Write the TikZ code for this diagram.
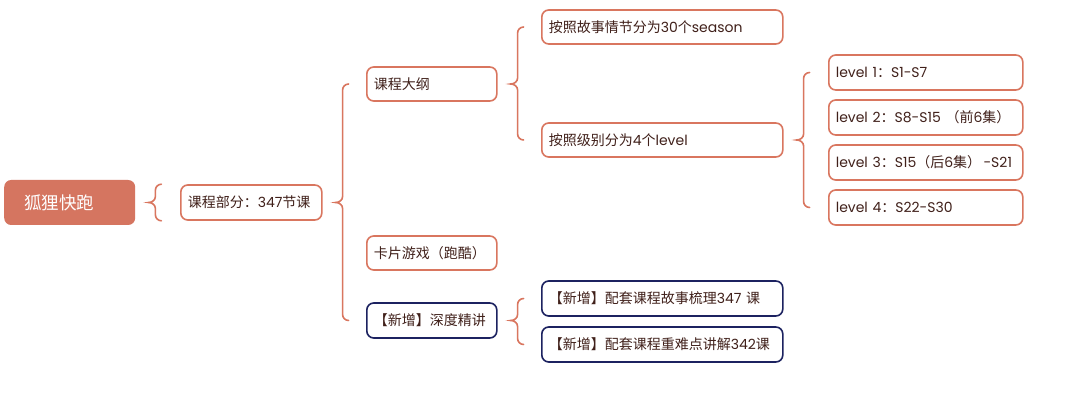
\documentclass[tikz,border=0pt]{standalone}
\usepackage{fontspec}
\setmainfont{Noto Sans CJK SC}
\newfontfamily\lat{Poppins}
\usetikzlibrary{calc}
\definecolor{c1}{RGB}{217,118,95}
\definecolor{rootfill}{RGB}{213,117,96}
\definecolor{navy}{RGB}{28,34,96}
\definecolor{tc}{RGB}{64,32,26}
\tikzset{
  box/.style={draw=c1, line width=1.6pt, rounded corners=7pt, fill=white, text=tc,
    font=\fontsize{14}{16}\selectfont, anchor=west, minimum height=35pt, inner xsep=7pt, align=left},
  nbox/.style={box, draw=navy},
  rootbox/.style={fill=rootfill, rounded corners=7pt, text=white, font=\fontsize{17.5}{19}\selectfont,
    anchor=west, minimum height=45pt, inner xsep=20pt, align=left, text width=91pt},
  brace/.style={draw=c1, line width=1.6pt, line cap=round}
}
\newcommand\brk[3]{%
  \draw[brace] let \p1=(#1.east), \p2=(#2), \p3=(#3) in
  (\x1+26pt,\y2) to[out=180,in=90] (\x1+20pt,\y2-6pt) -- (\x1+20pt,\y1+6pt)
  to[out=-90,in=0] (\x1+13pt,\y1) to[out=0,in=90] (\x1+20pt,\y1-6pt)
  -- (\x1+20pt,\y3+6pt) to[out=-90,in=180] (\x1+26pt,\y3);
}
\begin{document}
\begin{tikzpicture}[x=1pt,y=-1pt]
\path[use as bounding box, fill=white] (0,0) rectangle (1080,406);
\node[rootbox] (root) at (4,202.5) {狐狸快跑};
\node[box, text width=127pt] (kc) at (180,202.5) {课程部分：{\lat 347}节课};
\node[box, text width=116pt, minimum height=34pt] (dg) at (366,84) {课程大纲};
\node[box, text width=116pt, minimum height=34pt] (kp) at (366,253) {卡片游戏（跑酷）};
\node[nbox, text width=116pt] (sd) at (366,320.5) {【新增】深度精讲};
\node[box, text width=227pt, minimum height=34pt] (gs) at (541,27) {按照故事情节分为{\lat 30}个{\lat season}};
\node[box, text width=227pt, minimum height=34pt] (jb) at (541,140) {按照级别分为{\lat 4}个{\lat level}};
\node[box, text width=180pt] (l1) at (828,72.5) {{\lat level 1}：{\lat S1-S7}};
\node[box, text width=180pt] (l2) at (828,117.5) {{\lat level 2}：{\lat S8-S15 }（前{\lat 6}集）};
\node[box, text width=180pt] (l3) at (828,162.5) {{\lat level 3}：{\lat S15}（后{\lat 6}集）{\lat\,-S21}};
\node[box, text width=180pt] (l4) at (828,207.5) {{\lat level 4}：{\lat S22-S30}};
\node[nbox, text width=227pt] (x1) at (541,298.5) {【新增】配套课程故事梳理{\lat 347 }课};
\node[nbox, text width=227pt] (x2) at (541,344.5) {【新增】配套课程重难点讲解{\lat 342}课};
\brk{root}{kc.north west}{kc.south west}
\brk{kc}{dg.west}{sd.west}
\brk{dg}{gs.west}{jb.west}
\brk{jb}{l1.west}{l4.west}
\brk{sd}{x1.west}{x2.west}
\end{tikzpicture}
\end{document}
